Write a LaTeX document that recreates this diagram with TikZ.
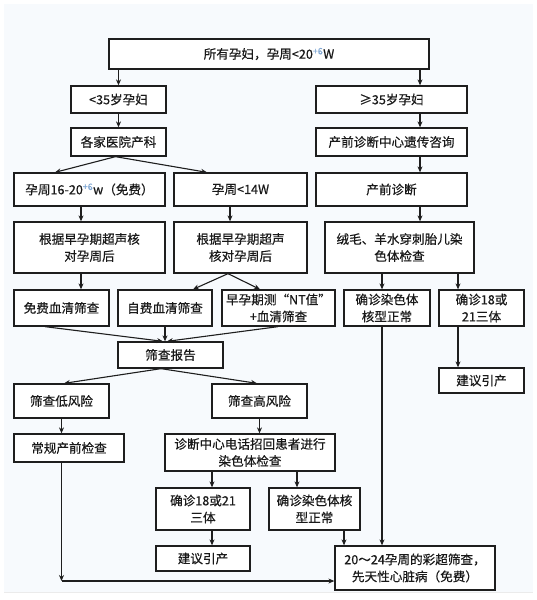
\documentclass[tikz,border=0pt]{standalone}
\usepackage{fontspec}
\setmainfont[FakeBold=0.5]{Noto Sans CJK SC}
\usepackage{xcolor}
\usetikzlibrary{arrows.meta, calc}
\definecolor{pagebg}{RGB}{247,250,253}
\definecolor{lineblack}{RGB}{30,30,30}
\definecolor{supblue}{RGB}{125,165,210}
\newcommand{\plussix}{\textsuperscript{\color{supblue}+6}}

\begin{document}
\begin{tikzpicture}[
    x=1pt, y=-1pt,
    box/.style={rectangle, draw=lineblack, fill=white, line width=1.3pt,
                inner sep=0pt, align=center, text=black!90,
                font=\fontsize{12.6}{17}\selectfont},
    arrow/.style={-{Stealth[length=6pt,width=5pt]}, line width=1.1pt, draw=lineblack}
]
    \useasboundingbox (0,0) rectangle (536,600);
    \fill[white] (0,0) rectangle (536,600);
    \fill[pagebg] (4,4) rectangle (533,592);
    \draw[black!8] (4,592) -- (533,592);

    % Boxes
    \node[box, minimum width=320pt, minimum height=30pt] (all) at (269,54) {所有孕妇，孕周<20\plussix W};
    \node[box, minimum width=95pt, minimum height=27pt] (lt35) at (118.5,99.5) {<35岁孕妇};
    \node[box, minimum width=151pt, minimum height=27pt] (ge35) at (391.5,99.5) {≥35岁孕妇};
    \node[box, minimum width=95pt, minimum height=28pt] (hosp) at (118.5,142) {各家医院产科};
    \node[box, minimum width=151pt, minimum height=28pt] (couns) at (391.5,142) {产前诊断中心遗传咨询};
    \node[box, minimum width=151pt, minimum height=33pt] (wk16) at (89.5,189.5) {孕周16-20\plussix w（免费）};
    \node[box, minimum width=133pt, minimum height=33pt] (wk14) at (240.5,189.5) {孕周<14W};
    \node[box, minimum width=151pt, minimum height=33pt] (prenat) at (391.5,189.5) {产前诊断};
    \node[box, minimum width=151pt, minimum height=51pt] (usone) at (89.5,247.5) {根据早孕期超声核\\对孕周后};
    \node[box, minimum width=133pt, minimum height=51pt] (ustwo) at (240.5,247.5) {根据早孕期超声\\核对孕周后};
    \node[box, minimum width=149pt, minimum height=51pt] (cvs) at (399.5,247.5) {绒毛、羊水穿刺胎儿染\\色体检查};
    \node[box, minimum width=95pt, minimum height=36pt] (free) at (61.5,308) {免费血清筛查};
    \node[box, minimum width=94pt, minimum height=36pt] (paid) at (165,308) {自费血清筛查};
    \node[box, minimum width=113pt, minimum height=36pt] (nt) at (278.5,308) {早孕期测“NT值”\\+血清筛查};
    \node[box, minimum width=86pt, minimum height=36pt] (normA) at (387,308) {确诊染色体\\核型正常};
    \node[box, minimum width=85pt, minimum height=36pt] (triA) at (481.5,308) {确诊18或\\21三体};
    \node[box, minimum width=105pt, minimum height=26pt] (report) at (170.5,355) {筛查报告};
    \node[box, minimum width=85pt, minimum height=25pt] (termA) at (481.5,380.5) {建议引产};
    \node[box, minimum width=95pt, minimum height=34pt] (low) at (61.5,401) {筛查低风险};
    \node[box, minimum width=95pt, minimum height=34pt] (high) at (259.5,401) {筛查高风险};
    \node[box, minimum width=110pt, minimum height=28pt] (routine) at (69,448) {常规产前检查};
    \node[box, minimum width=170pt, minimum height=37pt] (recall) at (250,452.5) {诊断中心电话招回患者进行\\染色体检查};
    \node[box, minimum width=94pt, minimum height=42pt] (triB) at (203,509) {确诊18或21\\三体};
    \node[box, minimum width=91pt, minimum height=42pt] (normB) at (314.5,509) {确诊染色体核\\型正常};
    \node[box, minimum width=94pt, minimum height=25pt] (termB) at (203,558.5) {建议引产};
    \node[box, minimum width=160pt, minimum height=44pt] (echo) at (415,568) {20～24孕周的彩超筛查，\\先天性心脏病（免费）};
    \coordinate (corner) at (61.5,581);

    % Arrows
    \draw[arrow] ([xshift=-150.5pt]all.south) -- (lt35.north);
    \draw[arrow] ([xshift=151pt]all.south) -- ([xshift=28.5pt]ge35.north);
    \draw[arrow] (lt35.south) -- (hosp.north);
    \draw[arrow] ([xshift=28.5pt]ge35.south) -- ([xshift=28.5pt]couns.north);
    \draw[arrow] ([xshift=-3pt]hosp.south) -- ([xshift=-34.5pt]wk16.north);
    \draw[arrow] ([xshift=-3pt]hosp.south) -- ([xshift=-33.5pt]wk14.north);
    \draw[arrow] ([xshift=28.5pt]couns.south) -- ([xshift=28.5pt]prenat.north);
    \draw[arrow] ([xshift=-8.5pt]wk16.south) -- ([xshift=-8.5pt]usone.north);
    \draw[arrow] ([xshift=-10.5pt]wk14.south) -- ([xshift=-10.5pt]ustwo.north);
    \draw[arrow] ([xshift=28.5pt]prenat.south) -- ([xshift=20.5pt]cvs.north);
    \draw[arrow] ([xshift=-8.5pt]usone.south) -- ([xshift=19.5pt]free.north);
    \draw[arrow] ([xshift=-12.5pt]ustwo.south) -- ([xshift=28pt]paid.north);
    \draw[arrow] ([xshift=-12.5pt]ustwo.south) -- ([xshift=-18.5pt]nt.north);
    \draw[arrow] ([xshift=-17.5pt]cvs.south) -- ([xshift=-5pt]normA.north);
    \draw[arrow] ([xshift=58.5pt]cvs.south) -- ([xshift=-23.5pt]triA.north);
    \draw[arrow] ([xshift=-16.5pt]free.south) -- ([xshift=-7.5pt]report.north);
    \draw[arrow] (paid.south) -- ([xshift=-5.5pt]report.north);
    \draw[arrow] ([xshift=-0.5pt]nt.south) -- ([xshift=-3.5pt]report.north);
    \draw[arrow] ([xshift=-23.5pt]triA.south) -- ([xshift=-23.5pt]termA.north);
    \draw[arrow] ([xshift=-9.5pt]report.south) -- ([xshift=2.5pt]low.north);
    \draw[arrow] ([xshift=-9.5pt]report.south) -- ([xshift=-2.5pt]high.north);
    \draw[arrow] (low.south) -- ([xshift=-7.5pt]routine.north);
    \draw[arrow] (high.south) -- ([xshift=9.5pt]recall.north);
    \draw[arrow] ([xshift=-38pt]recall.south) -- ([xshift=9pt]triB.north);
    \draw[arrow] ([xshift=47pt]recall.south) -- ([xshift=-17.5pt]normB.north);
    \draw[arrow] ([xshift=9pt]triB.south) -- ([xshift=9pt]termB.north);
    \draw[arrow] ([xshift=29.5pt]normB.south) -- ([xshift=-71pt]echo.north);
    \draw[arrow] ([xshift=-5pt]normA.south) -- ([xshift=-33pt]echo.north);
    \draw[arrow] ([xshift=-7.5pt]routine.south) -- (corner);
    \draw[arrow] (corner) -- (corner -| echo.west);
\end{tikzpicture}
\end{document}
